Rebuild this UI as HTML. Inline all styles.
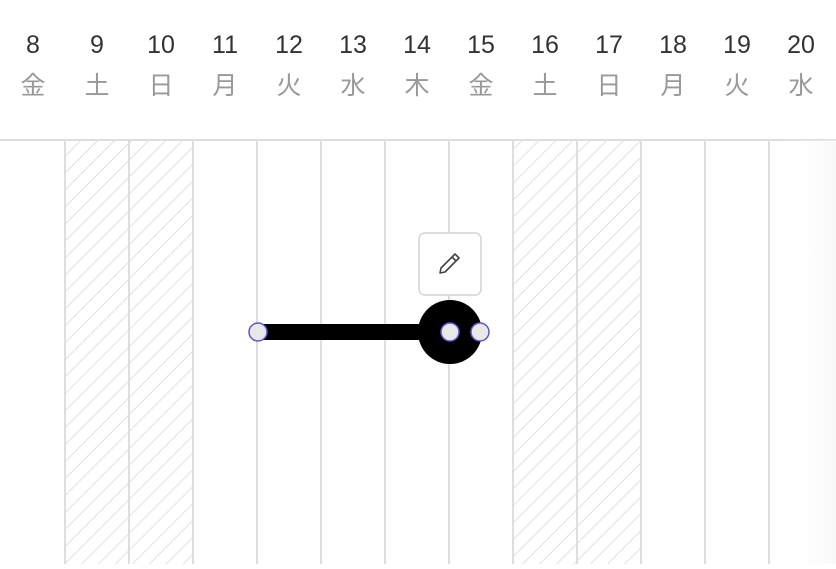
<!DOCTYPE html>
<html><head><meta charset="utf-8"><style>
body{margin:0;width:836px;height:564px;overflow:hidden;background:#fff;font-family:"Liberation Sans","Noto Sans CJK JP",sans-serif}
</style></head><body>
<svg width="836" height="564" viewBox="0 0 836 564" xmlns="http://www.w3.org/2000/svg">
<defs>
<pattern id="h" patternUnits="userSpaceOnUse" width="12" height="12" patternTransform="rotate(45)">
<line x1="0" y1="0" x2="0" y2="12" stroke="#d6d8de" stroke-width="1.6"/>
</pattern>
<linearGradient id="fade" x1="0" x2="1"><stop offset="0" stop-color="#fff" stop-opacity="0"/><stop offset="1" stop-color="#f4f4f4" stop-opacity="0.6"/></linearGradient>
</defs>
<rect x="65" y="141" width="128" height="423" fill="url(#h)"/>
<rect x="513" y="141" width="128" height="423" fill="url(#h)"/>
<g stroke="#dedede" stroke-width="2">
<line x1="0" y1="140" x2="836" y2="140"/>
<line x1="65" y1="140" x2="65" y2="564"/><line x1="129" y1="140" x2="129" y2="564"/>
<line x1="193" y1="140" x2="193" y2="564"/><line x1="257" y1="140" x2="257" y2="564"/>
<line x1="321" y1="140" x2="321" y2="564"/><line x1="385" y1="140" x2="385" y2="564"/>
<line x1="449" y1="140" x2="449" y2="564"/><line x1="513" y1="140" x2="513" y2="564"/>
<line x1="577" y1="140" x2="577" y2="564"/><line x1="641" y1="140" x2="641" y2="564"/>
<line x1="705" y1="140" x2="705" y2="564"/><line x1="769" y1="140" x2="769" y2="564"/>
</g>
<g font-size="25" text-anchor="middle" fill="#333">
<text x="33" y="53">8</text><text x="97" y="53">9</text><text x="161" y="53">10</text><text x="225" y="53">11</text><text x="289" y="53">12</text><text x="353" y="53">13</text><text x="417" y="53">14</text><text x="481" y="53">15</text><text x="545" y="53">16</text><text x="609" y="53">17</text><text x="673" y="53">18</text><text x="737" y="53">19</text><text x="801" y="53">20</text>
</g>
<g font-size="25" text-anchor="middle" fill="#999">
<text x="33" y="94">金</text><text x="97" y="94">土</text><text x="161" y="94">日</text><text x="225" y="94">月</text><text x="289" y="94">火</text><text x="353" y="94">水</text><text x="417" y="94">木</text><text x="481" y="94">金</text><text x="545" y="94">土</text><text x="609" y="94">日</text><text x="673" y="94">月</text><text x="737" y="94">火</text><text x="801" y="94">水</text>
</g>
<rect x="419" y="233" width="62" height="62" rx="6" fill="#fff" stroke="#d4d4d4" stroke-width="1.5"/>
<path d="M440 273 L441 268 L455 254 L459 258 L445 272 Z M452 257 L456 261" fill="none" stroke="#444" stroke-width="1.6" stroke-linejoin="round"/>
<rect x="258" y="324" width="192" height="16" fill="#000"/>
<circle cx="450" cy="332" r="32" fill="#000"/>
<g fill="#e8e8e8" stroke="#5b55d0" stroke-width="1.5">
<circle cx="258" cy="332" r="9"/><circle cx="450" cy="332" r="9"/><circle cx="480" cy="332" r="9"/>
</g>
<rect x="780" y="140" width="56" height="424" fill="url(#fade)"/>
</svg>
</body></html>
